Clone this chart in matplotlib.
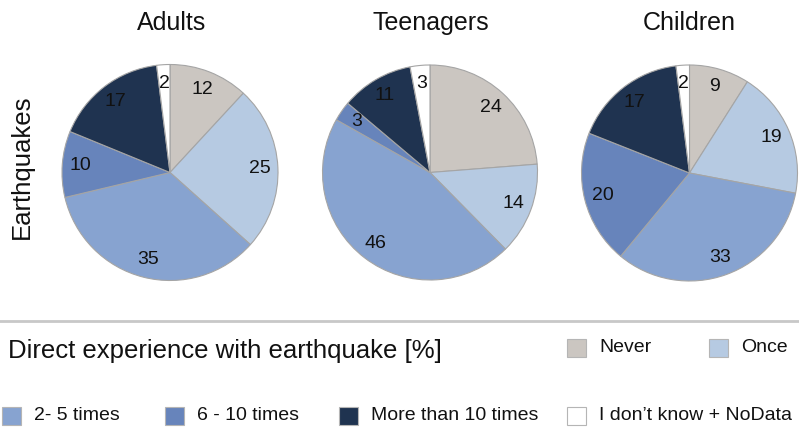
import matplotlib
matplotlib.use("Agg")
import matplotlib.pyplot as plt
from matplotlib.patches import Rectangle
from matplotlib.lines import Line2D

plt.rcParams['font.family'] = ['Liberation Sans', 'DejaVu Sans']

# Survey shares (%) per group
groups = ["Adults", "Teenagers", "Children"]
categories = ["Never", "Once", "2- 5 times", "6 - 10 times",
              "More than 10 times", "I don\u2019t know + NoData"]
adults = [12, 25, 35, 10, 17, 2]
teenagers = [24, 14, 46, 3, 11, 3]
children = [9, 19, 33, 20, 17, 2]
series = [adults, teenagers, children]

colors = ["#cbc6c1", "#b6cae2", "#87a3d0", "#6784bb", "#1f3350", "#ffffff"]

W, H = 799, 437
fig = plt.figure(figsize=(W / 100, H / 100), dpi=100)
fig.patch.set_facecolor("white")


def fx(x):
    return x / W


def fy(y):
    return 1 - y / H


# pie geometry in pixels: centre x, centre y, radius
pie_geom = [(170, 172.5, 108), (430, 172.5, 107.5), (689.5, 173, 108)]
title_x = [172, 431, 689]

for name, vals, (cx, cy, r), tx in zip(groups, series, pie_geom, title_x):
    ax = fig.add_axes([fx(cx - r), fy(cy + r), 2 * r / W, 2 * r / H])
    wedges, texts = ax.pie(
        vals, colors=colors, startangle=90, counterclock=False,
        labels=[str(v) for v in vals], labeldistance=0.83,
        wedgeprops=dict(edgecolor="#a5a5a5", linewidth=0.8),
        textprops=dict(fontsize=14, color="#111111"),
    )
    for t in texts:
        t.set_horizontalalignment("center")
        t.set_verticalalignment("center")
    ax.set_xlim(-1.0, 1.0)
    ax.set_ylim(-1.0, 1.0)
    ax.set_aspect("equal")
    ax.axis("off")
    fig.text(fx(tx), fy(23), name, fontsize=18, ha="center", va="center",
             color="#111111")

fig.text(fx(22), fy(167), "Earthquakes", fontsize=18.5, rotation=90,
         ha="center", va="center", color="#111111")

# separator line
fig.add_artist(Line2D([0, 1], [fy(321), fy(321)], color="#c8c8c8",
                      linewidth=2, transform=fig.transFigure))

fig.text(fx(8), fy(358), "Direct experience with earthquake [%]",
         fontsize=18.5, ha="left", va="baseline", color="#111111")

# legend entries: (patch left x, row centre y)
legend_pos = [(567, 348), (709, 348),
              (2, 416), (165, 416), (339, 416), (567, 416)]
pw, ph = 19, 18
for col, lab, (lx, ly) in zip(colors, categories, legend_pos):
    fig.add_artist(Rectangle((fx(lx), fy(ly + ph / 2)), pw / W, ph / H,
                             facecolor=col, edgecolor="#b5b5b5",
                             linewidth=0.8, transform=fig.transFigure))
    fig.text(fx(lx + pw + 13), fy(ly), lab, fontsize=14, ha="left",
             va="center", color="#111111")

fig.savefig("out.png", dpi=100, facecolor="white")
